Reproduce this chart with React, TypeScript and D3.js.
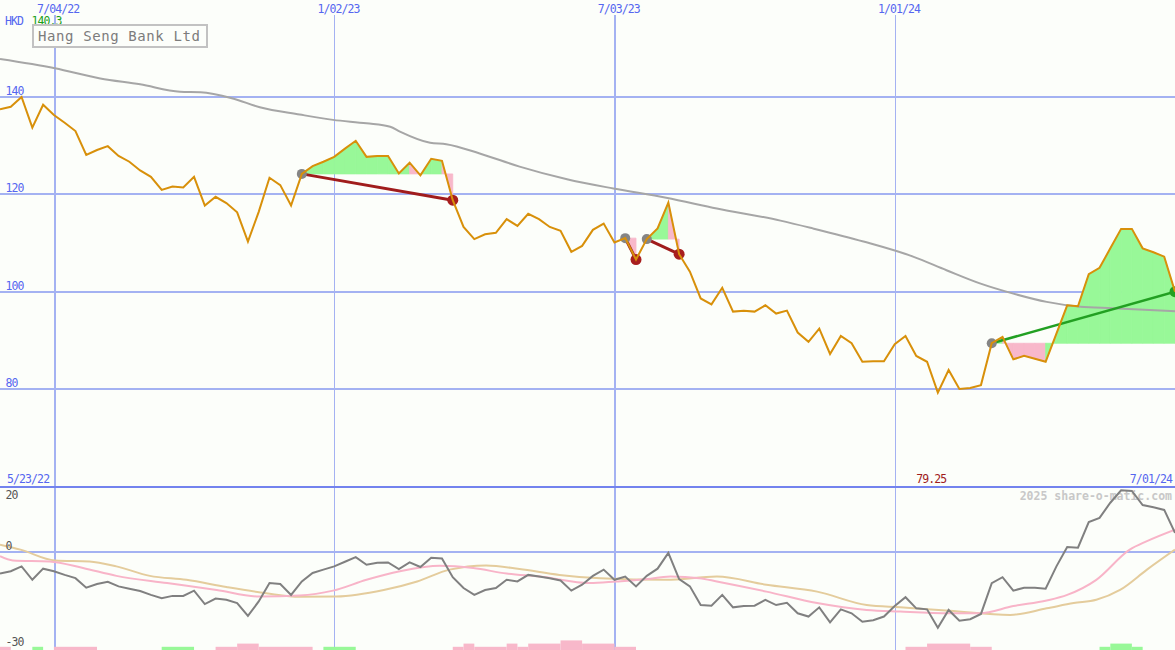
import React from "react";
import * as d3 from "d3";

const W = 1175;
const H = 650;

// weekly closes, week 0 = 5/30/22 ... week 109 = 7/01/24
const prices = [
  137.5, 138.0, 140.0, 133.7, 138.4, 136.3, 134.7, 133.0, 128.1, 129.1,
  129.9, 127.9, 126.7, 124.9, 123.6, 120.9, 121.6, 121.4, 123.6, 117.7,
  119.5, 118.2, 116.3, 110.3, 116.4, 123.4, 121.9, 117.7, 124.2, 125.8,
  126.7, 127.7, 129.4, 131.0, 127.7, 127.9, 127.9, 124.3, 126.5, 123.9,
  127.3, 126.9, 118.8, 113.3, 110.8, 111.8, 112.1, 114.9, 113.5, 116.0,
  114.9, 113.3, 112.5, 108.2, 109.4, 112.7, 114.0, 110.1, 111.0, 106.6,
  110.8, 113.0, 118.3, 107.7, 104.1, 98.6, 97.4, 100.8, 95.9, 96.1,
  95.9, 97.2, 95.5, 96.1, 91.6, 89.7, 92.4, 87.2, 90.9, 89.4,
  85.6, 85.7, 85.7, 89.2, 90.9, 86.8, 85.6, 79.25, 83.9, 80.0,
  80.2, 80.8, 89.4, 90.7, 86.1, 86.8, 86.2, 85.6, 91.4, 97.2,
  97.0, 103.6, 104.9, 108.9, 112.9, 112.9, 108.9, 108.1, 107.2, 100.0,
];

// long moving average (grey line in the price panel)
const maWeeks = [0, 5.1, 9.3, 13, 16.7, 18.6, 21.6, 24.1, 27.8, 30.9, 34, 36.2, 37.1, 39.9, 41.4, 44.5, 48.2, 52.6, 56.9, 61.8, 66.5, 72.4, 75.4, 80.1, 84.7, 87.8, 90.9, 94, 97.1, 100.2, 103.2, 109];
const maValues = [147.8, 145.9, 143.8, 142.6, 141.1, 141.0, 139.7, 137.9, 136.4, 135.3, 134.6, 133.9, 132.9, 130.6, 130.3, 128.4, 125.7, 123.1, 121.2, 119.3, 117.1, 114.6, 113.0, 110.3, 107.2, 104.4, 101.7, 99.6, 97.9, 96.9, 96.6, 96.0];

// oscillator (lower panel), one value per week
const osc = [
  -6.7, -6.0, -4.5, -8.6, -5.2, -6.0, -7.1, -8.1, -11.0, -9.9,
  -9.2, -10.6, -11.3, -12.0, -13.2, -14.2, -13.5, -13.5, -11.9, -16.0,
  -14.3, -14.7, -15.7, -19.6, -15.2, -9.6, -9.9, -13.2, -9.1, -6.5,
  -5.5, -4.5, -3.1, -1.7, -4.0, -3.4, -3.3, -5.3, -3.3, -4.7,
  -1.9, -2.1, -7.8, -11.1, -13.2, -11.7, -11.1, -8.6, -9.1, -7.1,
  -7.6, -8.1, -8.8, -11.9, -10.1, -7.4, -5.5, -8.6, -7.6, -10.6,
  -7.4, -5.2, -0.4, -8.4, -10.6, -16.3, -16.5, -13.2, -17.0, -16.6,
  -16.5, -14.7, -16.3, -15.6, -18.8, -19.8, -17.0, -21.6, -17.6, -18.8,
  -21.4, -20.9, -19.8, -16.6, -13.9, -17.3, -17.6, -23.2, -17.8, -21.1,
  -20.6, -19.0, -9.6, -7.8, -11.9, -11.0, -11.0, -11.3, -4.5, 1.4,
  1.2, 9.0, 10.3, 14.9, 18.7, 18.5, 14.2, 13.5, 12.7, 5.7,
];

// fast average of oscillator (pink)
const oscFastWeeks = [0, 1.2, 4.6, 7.7, 10.8, 15.5, 20.1, 24.1, 27.8, 30.9, 34, 37.1, 40.8, 43.9, 47, 50.1, 54.7, 57.2, 59.7, 62.2, 64.9, 66.5, 71.1, 75.8, 80.4, 83.5, 88.1, 90.9, 94, 97.1, 99, 101.7, 104.8, 106.4, 109];
const oscFastValues = [-1.4, -2.7, -3.0, -5.0, -7.4, -9.6, -11.7, -13.7, -13.4, -11.9, -8.6, -6.0, -4.3, -5.0, -6.7, -7.6, -9.6, -9.1, -8.5, -7.6, -8.1, -9.1, -12.2, -15.7, -17.8, -18.3, -18.8, -18.8, -16.6, -14.9, -13.2, -8.6, 0.6, 3.2, 6.7];

// slow average of oscillator (tan)
const oscSlowWeeks = [0, 1.9, 5.1, 8.3, 10.8, 13.9, 17.3, 21, 24.7, 27.8, 31.2, 35.6, 38.7, 41.7, 45.1, 48.2, 51.9, 55.7, 61.8, 66.5, 71.1, 75.8, 80.4, 83.5, 88.1, 93.7, 97.1, 99.6, 101.7, 103.9, 106.4, 109];
const oscSlowValues = [2.1, 0.6, -2.7, -3.0, -4.5, -7.4, -8.6, -10.8, -12.7, -13.8, -13.7, -11.7, -9.1, -5.5, -4.2, -5.3, -7.1, -8.1, -8.6, -7.6, -10.1, -12.2, -16.3, -17.0, -18.0, -19.3, -17.3, -15.7, -14.7, -11.7, -5.5, 0.6];

// signal bars at the bottom (week spans, signed level)
const barStart = [0, 3, 5, 15, 20, 22, 24, 30, 42, 43, 44, 47, 48, 49, 52, 54, 57, 84, 86, 90, 102, 103, 105];
const barEnd = [1, 4, 9, 18, 22, 24, 29, 33, 43, 44, 47, 48, 49, 52, 54, 57, 59, 86, 90, 92, 103, 105, 106];
const barLevel = [-1, 1, -1, 1, -1, -2, -1, 1, -1, -2, -1, -2, -1, -2, -3, -2, -1, -1, -2, -1, 1, 2, 1];

// trades (entry week, exit week)
const tradeStart = [28, 58, 60, 92];
const tradeEnd = [42, 59, 63, 109];

const priceTicks = [80, 100, 120, 140];
const oscTicks = [20, 0, -30];
const dateTickWeeks = [5, 31, 57, 83];
const dateTickLabels = ["7/04/22", "1/02/23", "7/03/23", "1/01/24"];
const dateTickMajor = [true, false, true, false];

const title = "Hang Seng Bank Ltd";
const currency = "HKD";
const highLabel = "140.3";
const lowLabel = "79.25";
const lowWeek = 87;
const startLabel = "5/23/22";
const endLabel = "7/01/24";
const watermark = "2025 share-o-matic.com";

const MONO = "'DejaVu Sans Mono', 'Liberation Mono', monospace";
const BG = "#fcfefa";
const GRID = "#a4b2f2";
const BLUE_TXT = "#5566f0";
const GREEN_FILL = "#98f898";
const PINK_FILL = "#f8b8ca";

export default function App() {
  const x = d3.scaleLinear().domain([0, 109]).range([0, W]);
  const yP = d3.scaleLinear().domain([80, 140]).range([389, 97]);
  const yO = d3.scaleLinear().domain([-30, 20]).range([650, 486]);

  const priceLine = d3
    .line<number>()
    .x((_, i) => x(i))
    .y((d) => yP(d));
  const maLine = d3
    .line<number>()
    .x((_, i) => x(maWeeks[i]))
    .y((d) => yP(d))
    .curve(d3.curveMonotoneX);
  const oscLine = d3
    .line<number>()
    .x((_, i) => x(i))
    .y((d) => yO(d));
  const fastLine = d3
    .line<number>()
    .x((_, i) => x(oscFastWeeks[i]))
    .y((d) => yO(d))
    .curve(d3.curveMonotoneX);
  const slowLine = d3
    .line<number>()
    .x((_, i) => x(oscSlowWeeks[i]))
    .y((d) => yO(d))
    .curve(d3.curveMonotoneX);

  const fills: { d: string; c: string }[] = [];
  tradeStart.forEach((s, t) => {
    const e = tradeEnd[t];
    const base = prices[s];
    const yb = yP(base);
    for (let k = s; k < e; k++) {
      const pts: [number, number][] = [
        [x(k), yb],
        [x(k), yP(prices[k])],
        [x(k + 1), yP(prices[k + 1])],
        [x(k + 1), yb],
      ];
      fills.push({
        d: "M" + pts.map((p) => p.join(",")).join("L") + "Z",
        c: prices[k + 1] >= base ? GREEN_FILL : PINK_FILL,
      });
    }
  });

  return (
    <svg
      width={W}
      height={H}
      style={{ position: "absolute", left: 0, top: 0, display: "block" }}
      fontFamily={MONO}
    >
      <rect x={0} y={0} width={W} height={H} fill={BG} />

      {/* price grid */}
      {priceTicks.map((v) => (
        <line key={"pg" + v} x1={0} x2={W} y1={Math.round(yP(v))} y2={Math.round(yP(v))} stroke={GRID} strokeWidth={2} />
      ))}
      {/* date grid */}
      {dateTickWeeks.map((w, i) => {
        const cx = x(w) + 0.8;
        const xx = dateTickMajor[i] ? Math.round(cx) : Math.floor(cx) + 0.5;
        return (
          <line key={"dg" + i} x1={xx} x2={xx} y1={15} y2={H} stroke={GRID} strokeWidth={dateTickMajor[i] ? 2 : 1} />
        );
      })}

      {/* trade fills */}
      {fills.map((f, i) => (
        <path key={"f" + i} d={f.d} fill={f.c} stroke={f.c} strokeWidth={0.8} strokeLinejoin="miter" />
      ))}

      {/* long average */}
      <path d={maLine(maValues) || ""} fill="none" stroke="#a6a6a6" strokeWidth={2} />

      {/* trade lines */}
      {tradeStart.map((s, t) => {
        const e = tradeEnd[t];
        const win = prices[e] > prices[s];
        return (
          <line
            key={"tl" + t}
            x1={x(s)}
            y1={yP(prices[s])}
            x2={x(e)}
            y2={yP(prices[e])}
            stroke={win ? "#22a022" : "#a01c1c"}
            strokeWidth={win ? 2.5 : 3}
          />
        );
      })}
      {tradeStart.map((s, t) => {
        const e = tradeEnd[t];
        const win = prices[e] > prices[s];
        return (
          <g key={"td" + t}>
            <circle cx={x(s)} cy={yP(prices[s])} r={5} fill="#858585" />
            <circle cx={x(e)} cy={yP(prices[e])} r={5.5} fill={win ? "#22a022" : "#a81e1e"} />
          </g>
        );
      })}

      {/* price */}
      <path d={priceLine(prices) || ""} fill="none" stroke="#d8900a" strokeWidth={2} strokeLinejoin="miter" />

      {/* price labels */}
      {priceTicks.map((v) => (
        <text key={"pl" + v} x={5.5} y={Math.round(yP(v)) - 2} fill={BLUE_TXT} fontSize={11.5} letterSpacing={-0.9}>
          {v}
        </text>
      ))}

      {/* date labels */}
      {dateTickWeeks.map((w, i) => (
        <text key={"dl" + i} x={x(w) + 4.3} y={13} textAnchor="middle" fill={BLUE_TXT} fontSize={11.5} letterSpacing={-0.9}>
          {dateTickLabels[i]}
        </text>
      ))}

      <text x={5} y={25} fill={BLUE_TXT} fontSize={11.5} letterSpacing={-0.9}>
        {currency}
      </text>
      <text x={31.5} y={25} fill="#1a9e1a" fontSize={11.5} letterSpacing={-0.9}>
        {highLabel}
      </text>

      {/* title box */}
      <rect x={33} y={25} width={174} height={22} fill={BG} stroke="#c2c2c2" strokeWidth={2} />
      <text x={38} y={41} fill="#7c7c7c" fontSize={14} letterSpacing={0.6}>
        {title}
      </text>

      {/* lower panel */}
      <line x1={0} x2={W} y1={487} y2={487} stroke="#7383ee" strokeWidth={2} />
      <line x1={0} x2={W} y1={Math.round(yO(0))} y2={Math.round(yO(0))} stroke={GRID} strokeWidth={2} />

      <text x={1172} y={500} textAnchor="end" fill="#c8c8c8" fontSize={11.5} fontWeight="bold">
        {watermark}
      </text>

      <path d={slowLine(oscSlowValues) || ""} fill="none" stroke="#e4cc9c" strokeWidth={2} />
      <path d={fastLine(oscFastValues) || ""} fill="none" stroke="#f8b4c8" strokeWidth={2} />
      <path d={oscLine(osc) || ""} fill="none" stroke="#808080" strokeWidth={2} />

      {/* signal bars */}
      {barStart.map((s, i) => {
        const h = Math.abs(barLevel[i]) * 3.2;
        return (
          <rect
            key={"b" + i}
            x={x(s)}
            y={H - h}
            width={x(barEnd[i]) - x(s)}
            height={h}
            fill={barLevel[i] > 0 ? GREEN_FILL : PINK_FILL}
          />
        );
      })}

      {/* osc labels */}
      {oscTicks.map((v) => {
        const yy = v === 20 ? yO(v) + 13 : v === 0 ? yO(v) - 2 : yO(v) - 4;
        return (
          <text key={"ol" + v} x={5.5} y={yy} fill="#555555" fontSize={11.5} letterSpacing={-0.9}>
            {v}
          </text>
        );
      })}

      <text x={7} y={483} fill={BLUE_TXT} fontSize={11.5} letterSpacing={-0.9}>
        {startLabel}
      </text>
      <text x={1172} y={483} textAnchor="end" fill={BLUE_TXT} fontSize={11.5} letterSpacing={-0.9}>
        {endLabel}
      </text>
      <text x={x(lowWeek) + 8.5} y={483} textAnchor="end" fill="#a01c1c" fontSize={11.5} letterSpacing={-0.9}>
        {lowLabel}
      </text>
    </svg>
  );
}
